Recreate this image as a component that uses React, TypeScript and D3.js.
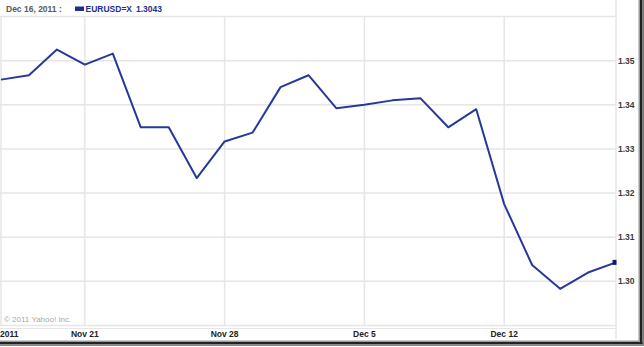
import React from "react";
import * as d3 from "d3";

const dates = [
  "Nov 16", "Nov 17", "Nov 18", "Nov 21", "Nov 22", "Nov 23", "Nov 24", "Nov 25",
  "Nov 28", "Nov 29", "Nov 30", "Dec 1", "Dec 2", "Dec 5", "Dec 6", "Dec 7",
  "Dec 8", "Dec 9", "Dec 12", "Dec 13", "Dec 14", "Dec 15", "Dec 16",
];
const closes = [
  1.3457, 1.3467, 1.3525, 1.3491, 1.3516, 1.3349, 1.3349, 1.3234,
  1.3317, 1.3337, 1.3440, 1.3467, 1.3392, 1.3400, 1.3410, 1.3415,
  1.3349, 1.3390, 1.3175, 1.3037, 1.2983, 1.3020, 1.3043,
];
const yTicks = [1.30, 1.31, 1.32, 1.33, 1.34, 1.35];
const yGrid = [1.29, 1.30, 1.31, 1.32, 1.33, 1.34, 1.35, 1.36];
const xTickLabels = ["Nov 21", "Nov 28", "Dec 5", "Dec 12"];
const firstLabel = "2011";
const headerDate = "Dec 16, 2011 :";
const symbol = "EURUSD=X";
const lastValue = "1.3043";
const copyright = "© 2011 Yahoo! Inc.";

const W = 644;
const H = 347;
const plotLeft = 0;
const plotRight = 616;
const plotTop = 16.5;
const plotBottom = 325.5;
const FONT = "'Liberation Sans', Arial, sans-serif";
const LINE = "#26399a";
const GRID = "#e6e6e6";

export default function App() {
  const x = d3.scaleLinear().domain([0, dates.length - 1]).range([1, plotRight]);
  const y = d3.scaleLinear().domain([1.29, 1.36]).range([plotBottom, plotTop]);
  const line = d3
    .line<number>()
    .x((_, i) => x(i))
    .y((d) => y(d));
  const tickIdx = xTickLabels.map((l) => dates.indexOf(l));
  const lastI = closes.length - 1;

  return (
    <svg
      width={W}
      height={H}
      style={{ position: "fixed", left: 0, top: 0, display: "block" }}
    >
      <rect x={0} y={0} width={W} height={H} fill="#ffffff" />
      {/* header */}
      <text x={6} y={12} fontFamily={FONT} fontWeight="bold" fontSize={8.5} fill="#5a5a5a">
        {headerDate}
      </text>
      <rect x={75} y={6.5} width={9} height={4.5} fill="#1f2f8f" />
      <text x={85.5} y={12} fontFamily={FONT} fontWeight="bold" fontSize={8.5} fill="#1f2f8f">
        {symbol}
        <tspan dx={4}>{lastValue}</tspan>
      </text>

      {/* grid */}
      {yGrid.map((v) => (
        <line key={v} x1={plotLeft} x2={plotRight} y1={y(v)} y2={y(v)} stroke={GRID} strokeWidth={1.5} />
      ))}
      {tickIdx.map((i) => (
        <line key={i} x1={x(i)} x2={x(i)} y1={plotTop} y2={plotBottom} stroke={GRID} strokeWidth={1.5} />
      ))}
      <line x1={1} x2={1} y1={plotTop} y2={plotBottom} stroke={GRID} strokeWidth={1.5} />
      <line x1={plotRight} x2={plotRight} y1={0} y2={339} stroke={GRID} strokeWidth={1.5} />
      <line x1={0} x2={plotRight} y1={328.5} y2={328.5} stroke={GRID} strokeWidth={1.2} />

      {/* copyright */}
      <text x={4} y={322} fontFamily={FONT} fontSize={8} fill="#a8a8a8">
        {copyright}
      </text>

      {/* series */}
      <path d={line(closes) || ""} fill="none" stroke={LINE} strokeWidth={2} strokeLinejoin="round" />
      <rect x={x(lastI) - 3.5} y={y(closes[lastI]) - 2.5} width={4} height={5} fill="#0d1a6e" />

      {/* right axis labels */}
      {yTicks.map((v) => (
        <text
          key={v}
          x={618}
          y={y(v)}
          dy="0.35em"
          fontFamily={FONT}
          fontWeight="bold"
          fontSize={8.5}
          fill="#3a3a3a"
        >
          {v.toFixed(2)}
        </text>
      ))}

      {/* bottom labels */}
      <text x={0} y={337} fontFamily={FONT} fontWeight="bold" fontSize={8.5} fill="#222">
        {firstLabel}
      </text>
      {xTickLabels.map((l, k) => (
        <text
          key={l}
          x={x(tickIdx[k])}
          y={337}
          textAnchor="middle"
          fontFamily={FONT}
          fontWeight="bold"
          fontSize={8.5}
          fill="#222"
        >
          {l}
        </text>
      ))}

      {/* frame shadow */}
      <rect x={638.5} y={0} width={1.5} height={343} fill="#9a9a9a" />
      <rect x={640} y={0} width={2.5} height={344} fill="#222" />
      <rect x={642.5} y={0} width={1.5} height={345} fill="#777" />
      <rect x={0} y={340.5} width={640} height={1.5} fill="#9a9a9a" />
      <rect x={0} y={342} width={642.5} height={2.5} fill="#222" />
      <rect x={0} y={344.5} width={644} height={1.5} fill="#888" />
    </svg>
  );
}
